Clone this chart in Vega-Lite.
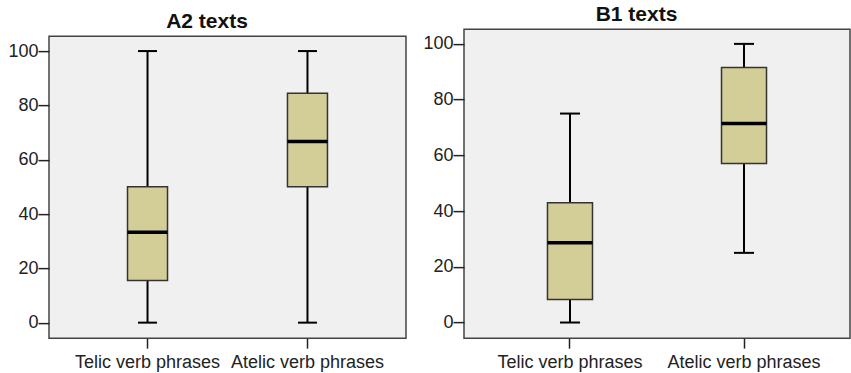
{
  "$schema": "https://vega.github.io/schema/vega-lite/v6.json",
  "padding": {"left": 7, "top": 3, "right": 0, "bottom": 0},
  "background": "white",
  "spacing": 15,
  "align": "each",
  "center": true,
  "datasets": {
    "A2": [
      {"cat": "Telic verb phrases", "min": 0, "q1": 15.5, "med": 33.3, "q3": 50, "max": 100},
      {"cat": "Atelic verb phrases", "min": 0, "q1": 50, "med": 66.7, "q3": 84.5, "max": 100}
    ],
    "B1": [
      {"cat": "Telic verb phrases", "min": 0, "q1": 8.3, "med": 28.6, "q3": 43, "max": 75},
      {"cat": "Atelic verb phrases", "min": 25, "q1": 57.1, "med": 71.4, "q3": 91.5, "max": 100}
    ]
  },
  "config": {
    "font": "Liberation Sans",
    "view": {"fill": "#f0f0f0", "stroke": "#444444", "strokeWidth": 1.5},
    "title": {"font": "Liberation Sans", "fontSize": 21, "fontWeight": "bold", "color": "#111111", "offset": 4, "frame": "bounds"},
    "axis": {"labelFont": "Liberation Sans", "labelFontSize": 18, "labelColor": "#222222", "tickColor": "#222222", "tickWidth": 1.5, "domain": false, "grid": false, "title": null}
  },
  "hconcat": [
    {
      "width": 357, "height": 302,
      "title": {"text": "A2 texts"},
      "data": {"name": "A2"},
      "encoding": {
        "x": {"field": "cat", "type": "nominal", "sort": null,
              "scale": {"type": "band", "paddingInner": 0, "paddingOuter": 0.116},
              "axis": {"labelAngle": 0, "tickSize": 10, "labelPadding": 5, "labelLimit": 300}}
      },
      "layer": [
        {"mark": {"type": "rule", "color": "black", "strokeWidth": 2},
         "encoding": {"y": {"field": "min", "type": "quantitative", "scale": {"domain": [-5.7, 105.5], "nice": false, "zero": false},
                            "axis": {"values": [0, 20, 40, 60, 80, 100], "tickSize": 11, "labelPadding": 0}},
                      "y2": {"field": "max"}}},
        {"mark": {"type": "bar", "size": 40, "fill": "#d3ce97", "stroke": "#333333", "strokeWidth": 1.5},
         "encoding": {"y": {"field": "q1", "type": "quantitative"}, "y2": {"field": "q3"}}},
        {"mark": {"type": "tick", "size": 40, "thickness": 3.5, "color": "black", "opacity": 1},
         "encoding": {"y": {"field": "med", "type": "quantitative"}}},
        {"mark": {"type": "tick", "size": 19, "thickness": 2, "color": "black", "opacity": 1},
         "encoding": {"y": {"field": "min", "type": "quantitative"}}},
        {"mark": {"type": "tick", "size": 19, "thickness": 2, "color": "black", "opacity": 1},
         "encoding": {"y": {"field": "max", "type": "quantitative"}}}
      ]
    },
    {
      "width": 386, "height": 309,
      "title": {"text": "B1 texts"},
      "data": {"name": "B1"},
      "encoding": {
        "x": {"field": "cat", "type": "nominal", "sort": null,
              "scale": {"type": "band", "paddingInner": 0, "paddingOuter": 0.109},
              "axis": {"labelAngle": 0, "tickSize": 10, "labelPadding": 5, "labelLimit": 300,
                       "title": " ", "titleFontSize": 7, "titlePadding": 0, "titleColor": "white", "titleOpacity": 0}}
      },
      "layer": [
        {"mark": {"type": "rule", "color": "black", "strokeWidth": 2},
         "encoding": {"y": {"field": "min", "type": "quantitative", "scale": {"domain": [-5.6, 105.3], "nice": false, "zero": false},
                            "axis": {"values": [0, 20, 40, 60, 80, 100], "tickSize": 11, "labelPadding": 0}},
                      "y2": {"field": "max"}}},
        {"mark": {"type": "bar", "size": 45, "fill": "#d3ce97", "stroke": "#333333", "strokeWidth": 1.5},
         "encoding": {"y": {"field": "q1", "type": "quantitative"}, "y2": {"field": "q3"}}},
        {"mark": {"type": "tick", "size": 45, "thickness": 3.5, "color": "black", "opacity": 1},
         "encoding": {"y": {"field": "med", "type": "quantitative"}}},
        {"mark": {"type": "tick", "size": 20, "thickness": 2, "color": "black", "opacity": 1},
         "encoding": {"y": {"field": "min", "type": "quantitative"}}},
        {"mark": {"type": "tick", "size": 20, "thickness": 2, "color": "black", "opacity": 1},
         "encoding": {"y": {"field": "max", "type": "quantitative"}}}
      ]
    }
  ]
}
